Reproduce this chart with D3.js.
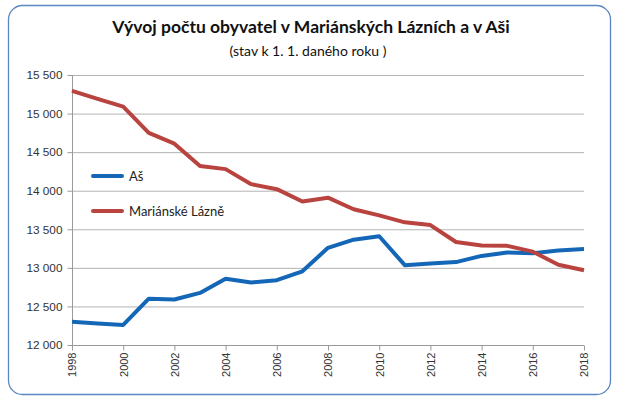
<!DOCTYPE html>
<html><head><meta charset="utf-8">
<script src="https://cdn.jsdelivr.net/npm/d3@7"></script>
<style>body{margin:0;background:#fff;} svg{display:block;}</style>
</head><body>
<svg id="c" width="617" height="401"></svg>
<script>
const years = [1998,1999,2000,2001,2002,2003,2004,2005,2006,2007,2008,2009,2010,2011,2012,2013,2014,2015,2016,2017,2018];
const as = [12300,12280,12260,12600,12590,12675,12860,12810,12840,12955,13260,13365,13410,13035,13055,13075,13155,13200,13190,13225,13245];
const ml = [15295,15190,15090,14750,14610,14320,14280,14085,14020,13860,13910,13760,13680,13590,13555,13335,13290,13285,13210,13040,12970];
const yTicks = [12000,12500,13000,13500,14000,14500,15000,15500];
const xTicks = [1998,2000,2002,2004,2006,2008,2010,2012,2014,2016,2018];
const seriesNames = ["Aš","Mariánské Lázně"];
const colors = ["#1467b6","#b9433f"];
const title = "Vývoj počtu obyvatel v Mariánských Lázních a v Aši";
const subtitle = "(stav k 1. 1. daného roku )";

const svg = d3.select("#c");
svg.append("rect").attr("x",8.5).attr("y",5.5).attr("width",602).attr("height",389)
  .attr("rx",14).attr("fill","#fff").attr("stroke","#5b86c0").attr("stroke-width",1.3);

const x = d3.scaleLinear().domain([1998,2018]).range([72,584]);
const y = d3.scaleLinear().domain([12000,15500]).range([345,75]);

// grid
svg.append("g").selectAll("line").data(yTicks.slice(1)).join("line")
  .attr("x1",72).attr("x2",584).attr("y1",d=>y(d)+0.5).attr("y2",d=>y(d)+0.5)
  .attr("stroke","#b3b3b3").attr("stroke-width",1);

const ya = svg.append("g").attr("transform","translate(72.5,0)")
  .call(d3.axisLeft(y).tickValues(yTicks).tickSize(5).tickPadding(5).tickFormat(d=>d3.format(",")(d).replace(","," ")));
ya.select(".domain").attr("stroke","#9a9a9a").attr("d","M0,75V345");
ya.selectAll(".tick line").attr("stroke","#9a9a9a");
ya.selectAll("text").attr("font-family","Liberation Sans, Arial").attr("font-size",11.8).attr("fill","#333");

const xa = svg.append("g").attr("transform","translate(0,345.5)")
  .call(d3.axisBottom(x).tickValues(xTicks).tickSize(5).tickFormat(d3.format("d")));
xa.select(".domain").attr("stroke","#9a9a9a").attr("d","M72,0H584");
xa.selectAll(".tick line").attr("stroke","#9a9a9a");
xa.selectAll("text").attr("font-family","Liberation Sans, Arial").attr("font-size",11).attr("fill","#333")
  .attr("transform","rotate(-90)").attr("text-anchor","end").attr("x",-7).attr("y",0).attr("dy","0.35em");

const line = d3.line().x((d,i)=>x(years[i])).y(d=>y(d));
[as,ml].forEach((s,k)=>{
  svg.append("path").datum(s).attr("d",line).attr("fill","none")
    .attr("stroke",colors[k]).attr("stroke-width",4).attr("stroke-linejoin","round");
});

// legend
const lg = svg.append("g");
seriesNames.forEach((n,k)=>{
  const ly = 176 + k*35;
  lg.append("line").attr("x1",93).attr("x2",122).attr("y1",ly).attr("y2",ly)
    .attr("stroke",colors[k]).attr("stroke-width",4).attr("stroke-linecap","round");
  lg.append("text").attr("x",129).attr("y",ly).attr("dy","0.35em").text(n)
    .attr("font-family","Lato, Open Sans, sans-serif").attr("font-size",13).attr("fill","#222");
});

svg.append("text").attr("x",311).attr("y",33).attr("text-anchor","middle").text(title)
  .attr("font-family","Lato, sans-serif").attr("font-weight","bold").attr("font-size",17.5).attr("fill","#111");
svg.append("text").attr("x",308).attr("y",56).attr("text-anchor","middle").text(subtitle)
  .attr("font-family","Lato, sans-serif").attr("font-size",14).attr("fill","#111");
</script>
</body></html>
